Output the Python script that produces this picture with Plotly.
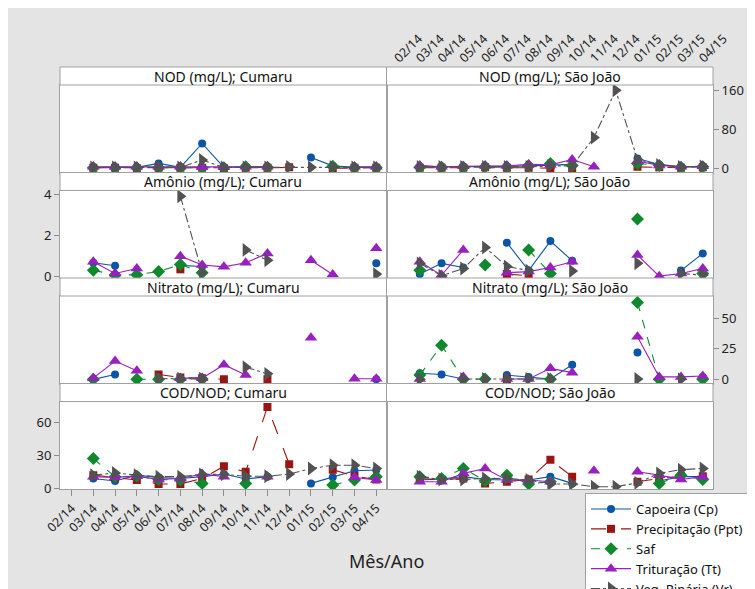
import plotly.graph_objects as go
from plotly.subplots import make_subplots

months = ['02/14', '03/14', '04/14', '05/14', '06/14', '07/14', '08/14', '09/14',
          '10/14', '11/14', '12/14', '01/15', '02/15', '03/15', '04/15']
sample_months = months[1:]

series_names = ['Capoeira (Cp)', 'Precipitação (Ppt)', 'Saf', 'Trituração (Tt)', 'Veg. Ripária (Vr)']
N = None

# NOD (mg/L)
nod_cumaru_cp = [2, 2, 2, 10, 2, 51, 2, 3, 3, N, 22, 5, 2, 2]
nod_cumaru_ppt = [1, 1, 0, 1, 1, 1, 0, 1, 1, 2, N, 0, 1, 1]
nod_cumaru_saf = [1, 1, 1, 1, 1, 1, 1, 3, 2, N, N, 4, 1, 1]
nod_cumaru_tt = [3, 3, 3, 3, 3, 2, 2, 3, 3, N, N, N, 3, 3]
nod_cumaru_vr = [2, 2, 2, 2, 2, 17, 2, 2, 2, 3, 2, 3, 2, 2]

nod_sj_cp = [3, 3, 3, 4, 4, 5, 7, 8, N, N, 20, 8, 3, 4]
nod_sj_ppt = [1, 1, 1, 2, 1, 1, 0, 0, N, N, 3, 2, 1, 2]
nod_sj_saf = [2, 2, 2, 3, 3, 5, 10, 6, N, N, 10, 6, 2, 3]
nod_sj_tt = [6, 3, 4, 5, 5, 8, 7, 18, 3, N, 15, 6, 3, 4]
nod_sj_vr = [3, 3, 3, 3, 3, 3, 5, 5, 63, 160, 18, 7, 3, 4]

# Amônio (mg/L)
amo_cumaru_cp = [0.68, 0.53, N, N, 0.55, 0.5, N, N, N, N, N, N, N, 0.65]
amo_cumaru_ppt = [N, N, N, N, 0.36, N, N, N, N, N, N, N, N, N]
amo_cumaru_saf = [0.32, 0.08, 0.1, 0.25, 0.6, 0.2, N, N, N, N, N, N, N, N]
amo_cumaru_tt = [0.73, 0.16, 0.4, N, 1.0, 0.57, 0.48, 0.68, 1.13, N, 0.8, 0.11, N, 1.38]
amo_cumaru_vr = [N, N, N, N, 3.9, 0.2, N, 1.3, 0.8, N, N, N, N, 0.13]

amo_sj_cp = [0.13, 0.65, 0.45, N, 1.65, 0.3, 1.73, 0.78, N, N, N, N, 0.3, 1.13]
amo_sj_ppt = [N, N, N, N, 0.13, 0.05, N, N, N, N, N, N, N, N]
amo_sj_saf = [0.32, N, N, 0.57, N, 1.3, 0.16, N, N, N, 2.8, N, N, 0.16]
amo_sj_tt = [0.73, 0.08, 1.3, N, 0.2, 0.25, 0.45, 0.73, N, N, 1.05, 0.03, 0.16, 0.4]
amo_sj_vr = [0.65, 0.05, 0.4, 1.42, 0.5, 0.3, N, 0.28, N, N, 0.65, N, 0.16, 0.08]

# Nitrato (mg/L)
nit_cumaru_cp = [0, 4, N, N, N, N, N, N, N, N, N, N, N, 0]
nit_cumaru_ppt = [N, N, N, 4, 1.5, 1, 0, N, 0, N, N, N, N, N]
nit_cumaru_saf = [0, N, 0, 0, 0, 0.3, N, N, N, N, N, N, N, N]
nit_cumaru_tt = [1, 15, 7, N, 1, 1, 12, 3.5, N, N, 34, N, 0.5, 0.5]
nit_cumaru_vr = [N, N, N, 0.5, 0.5, 0.5, N, 10, 4.5, N, N, N, N, N]

nit_sj_cp = [5, 4, 0.3, N, 3.5, 2, 0.3, 12, N, N, 22, N, N, 2]
nit_sj_ppt = [N, N, N, N, 0.3, N, N, N, N, N, N, N, N, N]
nit_sj_saf = [3.5, 28, 0, 0.3, N, N, 0, N, N, N, 63, 0, N, 0]
nit_sj_tt = [0.3, N, 2, N, 0.3, 0.3, 9, 5.5, N, N, 35, 2, 2, 2.7]
nit_sj_vr = [0, N, 0.3, 0.3, 0.3, 0.3, 0.3, N, N, N, 0.3, N, 0, N]

# COD/NOD
cod_cumaru_cp = [9, 6.7, 12, 9.7, 9, 10.6, 13, 8.5, 10.6, N, 4.5, 10, 16, 16.7]
cod_cumaru_ppt = [12, 9.7, 7.6, 4, 4, 9, 20, 15, 74, 22, N, 17, 11, 8]
cod_cumaru_saf = [27, 10.6, 11, 8, 7.6, 4.5, N, 4.5, N, N, N, 3, 7.6, 10.6]
cod_cumaru_tt = [10.6, 10, 11, 8, 9, 13, 10.6, N, 10.6, N, N, N, 10, 7.6]
cod_cumaru_vr = [12, 14, 12, 10.6, 10.6, 12.7, 12.7, 11, 11, 13, 18, 21, 21, 18]

cod_sj_cp = [7.6, 8.5, 10.6, 8, 7.6, 7.6, 10.6, 4.5, N, N, N, 6.7, 10.6, 10.6]
cod_sj_ppt = [9, 8, 9, 4.5, 6, 8, 26, 10.6, N, N, 6, 9, 11, 11]
cod_sj_saf = [10.6, 9, 18, 7, 12, 4, 6, N, N, N, N, 4.5, 12, 8]
cod_sj_tt = [6, 6, 13.6, 18, 7.6, 7.6, 6, N, 16, N, 15, 12, 8, 10.6]
cod_sj_vr = [10.6, 8, 8, 9, 9, 7.6, 4, 4, 1.5, 1.5, 5, 13.6, 17, 18]

panel_titles = ['NOD (mg/L); Cumaru', 'NOD (mg/L); São João',
                'Amônio (mg/L); Cumaru', 'Amônio (mg/L); São João',
                'Nitrato (mg/L); Cumaru', 'Nitrato (mg/L); São João',
                'COD/NOD; Cumaru', 'COD/NOD; São João']

panels = [
    [nod_cumaru_cp, nod_cumaru_ppt, nod_cumaru_saf, nod_cumaru_tt, nod_cumaru_vr],
    [nod_sj_cp, nod_sj_ppt, nod_sj_saf, nod_sj_tt, nod_sj_vr],
    [amo_cumaru_cp, amo_cumaru_ppt, amo_cumaru_saf, amo_cumaru_tt, amo_cumaru_vr],
    [amo_sj_cp, amo_sj_ppt, amo_sj_saf, amo_sj_tt, amo_sj_vr],
    [nit_cumaru_cp, nit_cumaru_ppt, nit_cumaru_saf, nit_cumaru_tt, nit_cumaru_vr],
    [nit_sj_cp, nit_sj_ppt, nit_sj_saf, nit_sj_tt, nit_sj_vr],
    [cod_cumaru_cp, cod_cumaru_ppt, cod_cumaru_saf, cod_cumaru_tt, cod_cumaru_vr],
    [cod_sj_cp, cod_sj_ppt, cod_sj_saf, cod_sj_tt, cod_sj_vr],
]

row_ticks = [[0, 80, 160], [0, 2, 4], [0, 25, 50], [0, 30, 60]]
row_ranges = [[-8.6, 170.9], [-0.06, 4.18], [-3.4, 68.3], [-0.6, 78.9]]

colors = ['#0a55a8', '#9b1414', '#0e8a2d', '#9a1fc0', '#525252']
symbols = ['circle', 'square', 'diamond', 'triangle-up', 'triangle-right']
sizes = [8, 8, 10, 11, 12]
dashes = ['solid', 'longdash', 'dash', 'solid', 'dashdot']

FONT = 'Noto Sans'
OFF = 8  # page body margin
W, H = 755 - OFF, 589 - OFF
ML, MR, MT, MB = 60 - OFF, 42, 67 - OFF, 100
PW, PH = W - ML - MR, H - MT - MB


def px(xp):
    return (xp - OFF - ML) / PW


def py(yp):
    return (MT + PH - (yp - OFF)) / PH


fig = make_subplots(rows=4, cols=2, horizontal_spacing=0, vertical_spacing=0.05)

col_edges = [(60, 386.5), (386.5, 713)]
row_h = 105.5
hdr = 18
border = '#a0a0a0'
shapes = []
annotations = []

for k, data in enumerate(panels):
    r, c = k // 2 + 1, k % 2 + 1
    for s in range(5):
        fig.add_trace(go.Scatter(
            x=sample_months, y=data[s], name=series_names[s],
            mode='lines+markers', legendgroup=series_names[s], showlegend=(k == 0),
            line=dict(color=colors[s], width=1.1, dash=dashes[s]),
            marker=dict(color=colors[s], symbol=symbols[s], size=sizes[s], line=dict(width=0)),
            connectgaps=False,
        ), row=r, col=c)

    top = 67 + row_h * (r - 1)
    ptop = top + hdr
    pbot = top + row_h
    x0, x1 = col_edges[c - 1]
    idx = k + 1
    xa = 'xaxis' if idx == 1 else f'xaxis{idx}'
    ya = 'yaxis' if idx == 1 else f'yaxis{idx}'

    show_x = (r == 4 and c == 1) or (r == 1 and c == 2)
    xside = 'top' if r == 1 else 'bottom'
    fig.layout[xa].update(
        domain=[px(x0), px(x1)], type='category', categoryorder='array',
        categoryarray=months, range=[-0.53, 14.47], automargin=False,
        showline=True, mirror=True, linecolor=border, linewidth=1,
        showgrid=False, zeroline=False, side=xside,
        showticklabels=show_x, ticks='outside' if show_x else '',
        ticklen=6, tickcolor='#8c8c8c', tickangle=-45,
        tickfont=dict(family=FONT, size=12.5, color='#222'),
        tickvals=months, ticktext=months,
    )
    if r == 1 and c == 2:
        fig.layout[xa].update(ticklabelstandoff=8, ticklabelshift=-3)
    show_y = (c == 1 and r in (2, 4)) or (c == 2 and r in (1, 3))
    fig.layout[ya].update(
        domain=[py(pbot), py(ptop)], range=row_ranges[r - 1], automargin=False,
        showline=True, mirror=True, linecolor=border, linewidth=1,
        showgrid=False, zeroline=False,
        side='left' if c == 1 else 'right',
        showticklabels=show_y, ticks='outside' if show_y else '',
        tickvals=row_ticks[r - 1], ticklen=5, tickcolor='#8c8c8c',
        tickfont=dict(family=FONT, size=13, color='#222'),
    )
    shapes.append(dict(type='rect', xref='paper', yref='paper',
                       x0=px(x0), x1=px(x1), y0=py(ptop), y1=py(top),
                       fillcolor='white', line=dict(color=border, width=1), layer='above'))
    annotations.append(dict(text=panel_titles[k], xref='paper', yref='paper',
                            x=(px(x0) + px(x1)) / 2, y=(py(ptop) + py(top)) / 2,
                            xanchor='center', yanchor='middle', showarrow=False,
                            font=dict(family=FONT, size=14, color='#111')))

annotations.append(dict(text='Mês/Ano', xref='paper', yref='paper', x=px(386), y=py(561),
                        xanchor='center', yanchor='middle', showarrow=False,
                        font=dict(family=FONT, size=18, color='#222')))

fig.update_layout(
    width=W, height=H,
    margin=dict(l=ML, r=MR, t=MT, b=MB, pad=0, autoexpand=False),
    paper_bgcolor='#e4e4e4', plot_bgcolor='white',
    shapes=shapes, annotations=annotations,
    legend=dict(x=px(585), y=py(493), xanchor='left', yanchor='top',
                bgcolor='white', bordercolor='#a0a0a0', borderwidth=1,
                font=dict(family=FONT, size=13, color='#111'),
                tracegroupgap=0, itemwidth=40),
    showlegend=True,
)

fig.write_html('out.html')
